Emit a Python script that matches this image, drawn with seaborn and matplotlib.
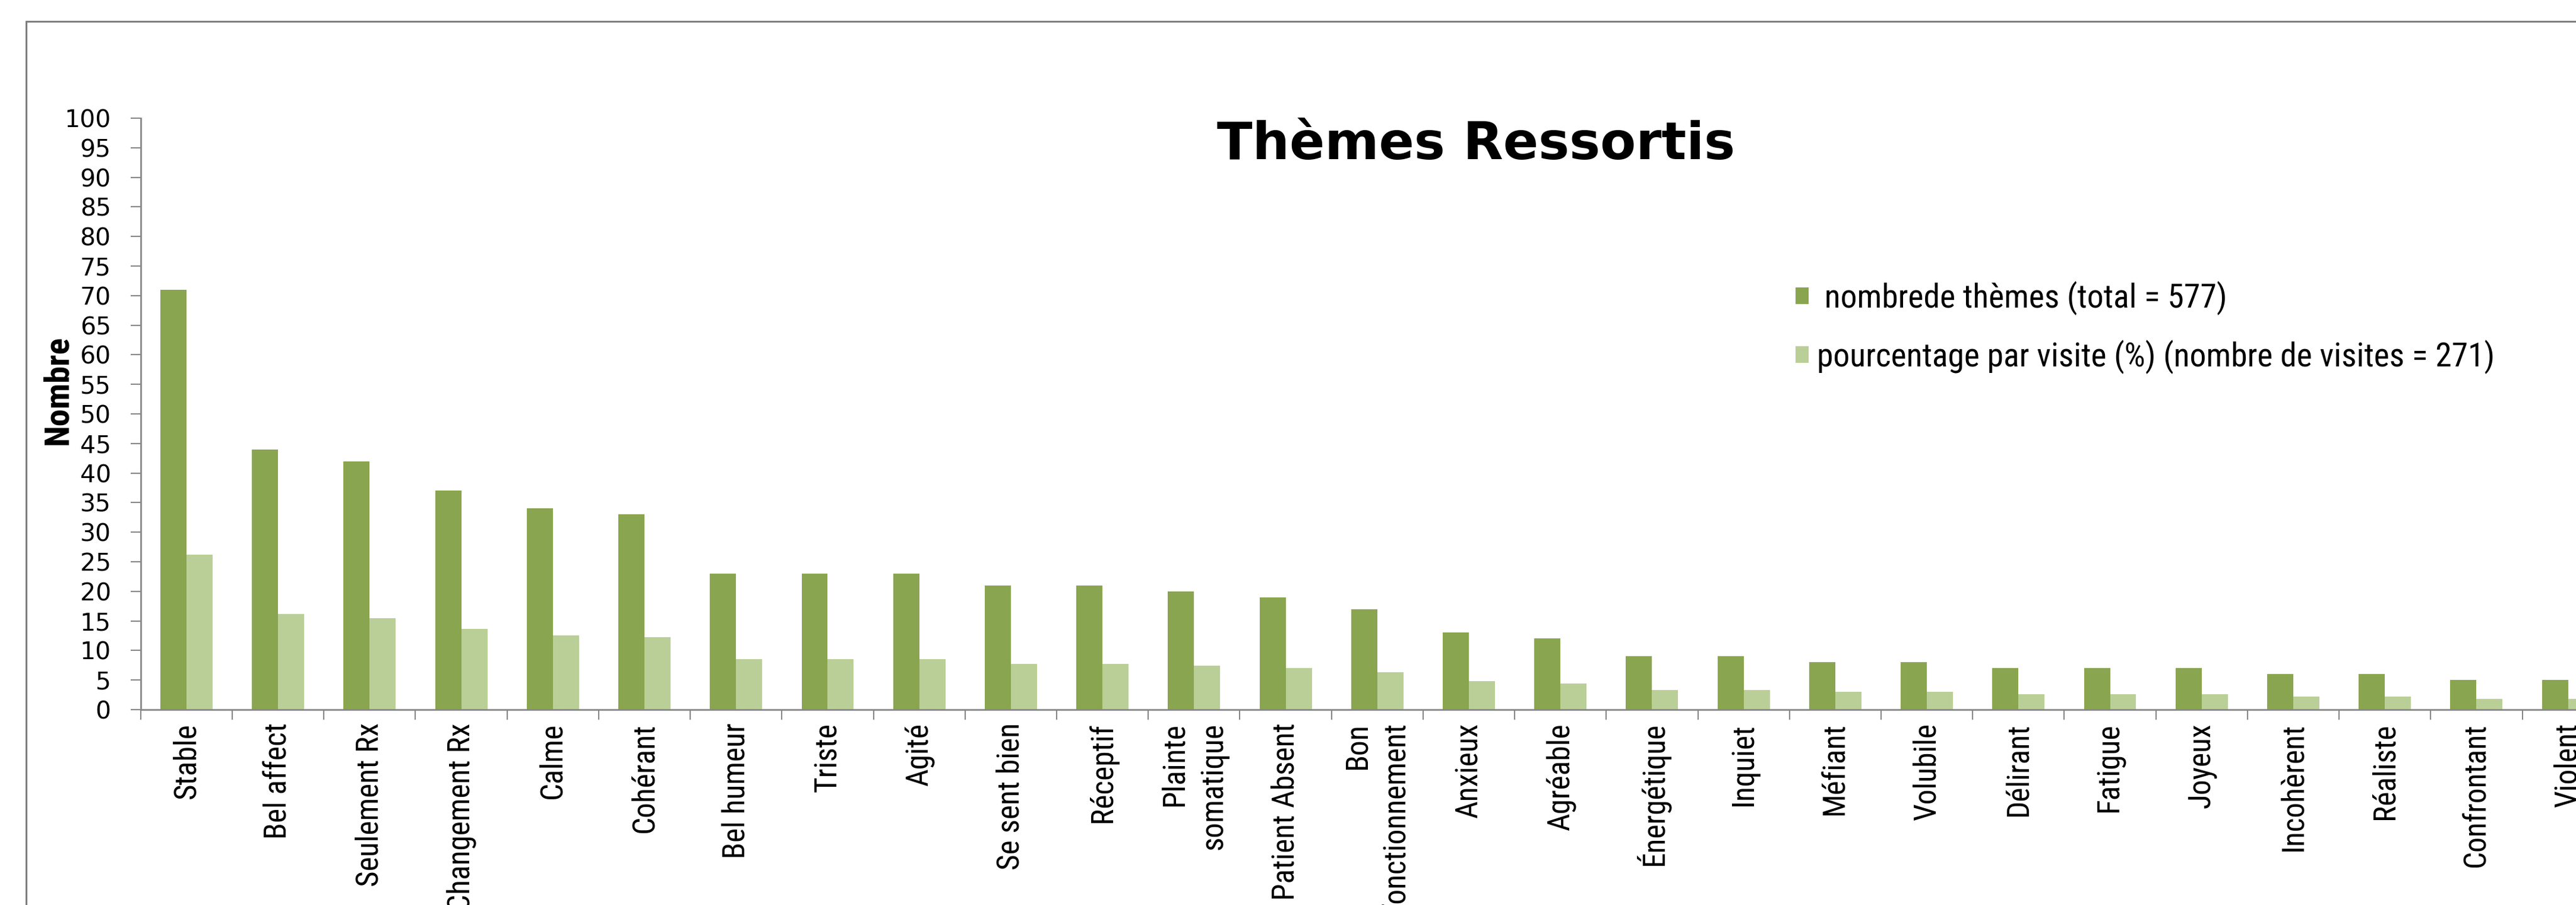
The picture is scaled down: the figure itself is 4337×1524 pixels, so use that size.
import matplotlib
matplotlib.use("Agg")
import matplotlib.pyplot as plt
from matplotlib import font_manager
from matplotlib.lines import Line2D
from matplotlib.ticker import FixedLocator
import pandas as pd
import seaborn as sns

# Données (les catégories à droite de "Violent" sont coupées)
themes = ["Stable", "Bel affect", "Seulement Rx", "Changement Rx", "Calme", "Cohérant",
          "Bel humeur", "Triste", "Agité", "Se sent bien", "Réceptif", "Plainte\nsomatique",
          "Patient Absent", "Bon\nfonctionnement", "Anxieux", "Agréable", "Énergétique",
          "Inquiet", "Méfiant", "Volubile", "Délirant", "Fatigue", "Joyeux", "Incohèrent",
          "Réaliste", "Confrontant", "Violent"]
nb_themes = [71, 44, 42, 37, 34, 33, 23, 23, 23, 21, 21, 20, 19, 17, 13, 12, 9, 9, 8, 8,
             7, 7, 7, 6, 6, 5, 5]
pct_visite = [26.2, 16.2, 15.5, 13.7, 12.5, 12.2, 8.5, 8.5, 8.5, 7.7, 7.7, 7.4, 7.0, 6.3,
              4.8, 4.4, 3.3, 3.3, 3.0, 3.0, 2.6, 2.6, 2.6, 2.2, 2.2, 1.8, 1.8]
serie_nb = " nombrede thèmes (total = 577)"
serie_pct = "pourcentage par visite (%) (nombre de visites = 271)"

vert_fonce = "#8AA54F"
vert_clair = "#BACF97"
gris = "#868686"

# police étroite si disponible
installed = {f.name for f in font_manager.fontManager.ttflist}
narrow = next((f for f in ["Liberation Sans Narrow", "Roboto Condensed", "DejaVu Sans Condensed",
                           "Liberation Sans"] if f in installed), "DejaVu Sans")

df = pd.DataFrame({"theme": themes, serie_nb: nb_themes, serie_pct: pct_visite})
df = df.melt(id_vars="theme", var_name="serie", value_name="valeur")

sns.set_style("white")
plt.rcParams["font.family"] = ["DejaVu Sans"]
plt.rcParams["text.color"] = "black"
plt.rcParams["xtick.color"] = "black"
plt.rcParams["ytick.color"] = "black"

fig = plt.figure(figsize=(43.37, 15.24), dpi=100)
ax = fig.add_axes([0.0546, 0.2159, 0.9601, 0.6535])
sns.barplot(data=df, x="theme", y="valeur", hue="serie", palette=[vert_fonce, vert_clair],
            width=0.57, linewidth=0, saturation=1, ax=ax)

ax.set_xlim(-0.5, len(themes) - 0.5)
ax.set_ylim(0, 100)
ax.set_yticks(range(0, 101, 5))
ax.set_xlabel("")
ax.set_ylabel("")
for side in ["top", "right"]:
    ax.spines[side].set_visible(False)
for side in ["left", "bottom"]:
    ax.spines[side].set_color(gris)
    ax.spines[side].set_linewidth(2)

ax.tick_params(axis="y", length=12, width=1.5, color=gris, labelcolor="black", pad=24,
               labelsize=29.5, direction="out", left=True)
ax.xaxis.set_minor_locator(FixedLocator([i - 0.5 for i in range(len(themes) + 1)]))
ax.tick_params(axis="x", which="major", length=0, pad=16, labelcolor="black")
ax.tick_params(axis="x", which="minor", length=12, width=1.5, color=gris, direction="out", bottom=True)
ax.set_xticks(range(len(themes)))
ax.set_xticklabels(themes, rotation=90, fontsize=37, family=narrow, linespacing=1.4)
for lab in ax.get_xticklabels():
    lab.set_multialignment("right")

# légende
handles, labels = ax.get_legend_handles_labels()
if ax.get_legend() is not None:
    ax.get_legend().remove()
fig.legend(handles, labels, loc="center left", bbox_to_anchor=(0.697, 0.638), frameon=False,
           prop={"family": narrow, "size": 40}, handlelength=0.4, handleheight=0.4,
           handletextpad=0.25, labelspacing=0.75, borderpad=0, borderaxespad=0,
           labelcolor="black")

fig.text(0.573, 0.84, "Thèmes Ressortis", ha="center", va="center", fontsize=63,
         fontweight="bold", color="black")
fig.text(0.0224, 0.569, "Nombre", rotation=90, ha="center", va="center", fontsize=42,
         fontweight="bold", family=narrow, color="black")

# cadre du graphique
fig.add_artist(Line2D([0.0101, 0.0101], [0, 0.9764], color="#7F7F7F", lw=2.2))
fig.add_artist(Line2D([0.0101, 1], [0.9764, 0.9764], color="#7F7F7F", lw=2.2))

fig.savefig("out.png", dpi=100)
